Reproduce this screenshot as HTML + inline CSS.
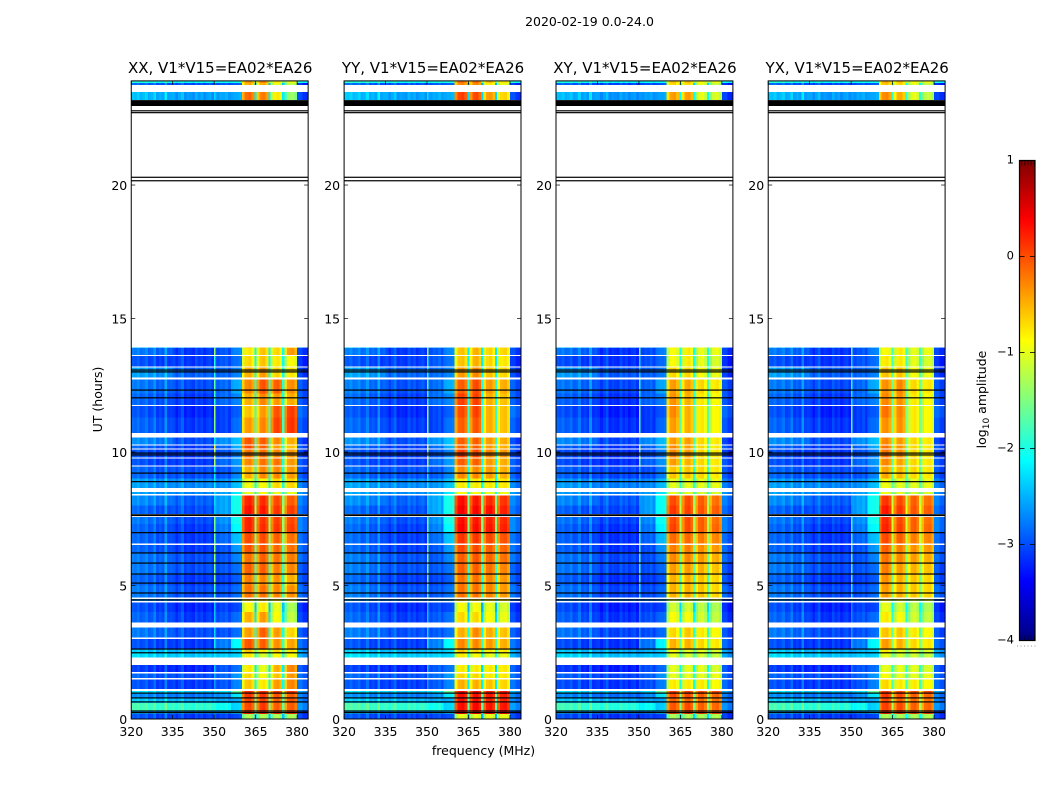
<!DOCTYPE html>
<html>
<head>
<meta charset="utf-8">
<title>2020-02-19 amplitude waterfall</title>
<style>
html,body{margin:0;padding:0;background:#fff;}
svg{display:block;}
text{font-family:"DejaVu Sans","Liberation Sans",sans-serif;fill:#000;}
</style>
</head>
<body>
<svg id="fig" xmlns="http://www.w3.org/2000/svg" width="1050" height="800" viewBox="0 0 1050 800"></svg>
<script>
const _ = null;
const panelTitles = ["XX, V1*V15=EA02*EA26","YY, V1*V15=EA02*EA26","XY, V1*V15=EA02*EA26","YX, V1*V15=EA02*EA26"];
const figureTitle = "2020-02-19 0.0-24.0";
const xTicks = [320,335,350,365,380];
const yTicks = [0,5,10,15,20];
const colorTicks = [1,0,-1,-2,-3,-4];
const colorbarMinorFractions = [0.05,0.25,0.45,0.65,0.85];
const panelLowOffset = [-.08,-.06,-.12,-.1];
const panelGapOffset = [0,-0.1,0.1,0.3];
const panelLineOffset = [0,0,-.3,-.3];
const rowStartHours = [0,.19,.30,.60,.79,.97,1.05,1.12,1.48,1.53,1.70,1.76,2.02,2.30,2.48,2.62,3.00,3.05,3.42,3.61,4.00,4.36,4.42,4.50,4.56,5.00,5.40,5.80,6.20,6.52,6.58,7.00,7.30,7.57,7.67,8.00,8.37,8.42,8.50,8.65,9.00,9.46,9.50,9.76,9.80,10.10,10.13,10.25,10.28,10.54,10.71,11.30,11.72,11.76,12.20,12.72,12.80,13.17,13.20,13.59,13.63,13.89,13.92,13.94,23.18,23.48,23.75,23.82];
const rowEndHour = 23.9;
const channelEdges = [320,321,322,323,324,325,326,327,328,329,330,331,332,333,334,335,336,337,338,339,340,341,342,343,344,345,346,347,348,349,350,350.5,351,352,353,354,355,356,357,358,359,360,361,362.5,363.5,364.6,365.4,366.4,367.5,368.6,369.6,370.4,371.4,372.5,373.6,374.6,375.4,376.4,377.7,379,380,382,384];
const lowChannelOffset = [.15,.1,.2,.05,.1,.2,0,.05,.25,-.05,.05,-.05,.35,-.05,0,.05,-.1,.05,.2,-.1,0,-.05,-.1,.1,-.05,.05,-.1,0,.05,-.1,0,0,-.05,.05,0,.1,-.05,0,.05,.05,.1];
const blockChannelOffset = [-.35,0,.05,-.15];
const highChannelOffset = [.08,-.08];
/* per row: 320-335, 335-350, 351-356, 356-360, 350 line, 380-384, gaps between blocks */
const lowLevels = [
[-3,-3,-3,-3,-2.8,-3,-2.4],[-2.6,-2.6,-2.6,-2.4,-2.6,-3,-1.8],[-1.8,-1.8,-2,-2.3,-1.9,-2.6,-1.6],[-2.4,-2.4,-2.5,-2.5,-2.4,-2.7,-1.7],[-2.7,-2.7,-2.6,-2.2,-2.6,-2.7,-1.6],[-2.3,-2.3,-2.2,-1.6,-2.2,-2.5,-1.2],_,
[-3,-3,-2.9,-2.7,-2.6,-2.8,-2.1],_,[-2.9,-2.9,-2.8,-2.6,-2.5,-2.8,-2],_,[-3.1,-3.1,-2.9,-2.8,-2.4,-2.9,-2.2],_,
[-2.3,-2.3,-2.3,-2.3,-2.2,-2.5,-1.9],[-2.4,-2.4,-2.4,-2.3,-2.3,-2.5,-1.7],[-3,-3,-2.7,-2.1,-2.2,-2.8,-1.8],_,[-2.8,-2.9,-2.9,-2.8,-2.3,-2.9,-2],_,
[-2.9,-3,-2.9,-2.8,-2.4,-3,-2.2],[-3,-3.1,-3,-3,-2.4,-3.1,-2.4],_,[-2.7,-2.7,-2.7,-2.6,-2.3,-2.9,-2],_,
[-2.8,-2.9,-2.9,-2.8,-1.8,-2.8,-1.8],[-2.9,-3,-3,-2.9,-1.5,-2.9,-1.9],[-2.8,-2.9,-2.9,-2.8,-1.5,-2.9,-1.8],[-2.8,-2.9,-2.9,-2.7,-1.4,-2.8,-1.7],[-2.9,-3,-2.9,-2.6,-1.5,-2.8,-1.7],_,
[-2.9,-3,-2.8,-2.4,-1.6,-2.8,-1.5],[-2.9,-3,-2.7,-2.1,-1.6,-2.7,-1.4],[-2.8,-2.9,-2.6,-2,-1.5,-2.7,-1.4],_,
[-2.9,-2.9,-2.5,-2,-2.4,-2.8,-1.3],[-2.7,-2.8,-2.5,-2,-2.3,-2.7,-1.5],_,[-2.6,-2.6,-2.5,-2.2,-2.2,-2.6,-1.9],_,
[-2.6,-2.6,-2.6,-2.4,-2.2,-2.7,-2],[-2.9,-2.9,-2.9,-2.7,-2.2,-2.9,-2],_,[-3,-3,-2.8,-2.6,-1.3,-2.9,-2],_,[-3,-3,-2.9,-2.7,-1.3,-3,-2],_,
[-2.9,-3,-2.8,-2.5,-1,-2.9,-1.9],_,[-2.7,-2.9,-2.6,-2.4,-2.2,-3,-1.9],_,
[-2.9,-3,-3,-2.8,-1.5,-2.9,-1.8],[-3,-3.1,-3,-2.9,-1.4,-2.8,-1.8],_,[-2.9,-3,-2.8,-2.7,-1.9,-2.9,-2],[-2.8,-2.9,-2.8,-2.5,-1.7,-2.9,-1.9],_,
[-2.6,-2.8,-2.8,-2.7,-2,-3,-2],_,[-3,-3,-2.9,-2.8,-2,-3.1,-2.1],_,[-2.8,-3,-2.9,-2.7,-1.4,-3,-2.1],_,[-2.5,-2.6,-2.6,-2.6,-2,-2.8,-2],_,
[-2.45,-2.5,-2.5,-2.5,-2.3,-3,-2.2],_,[-2.9,-2.9,-2.9,-2.9,-2.8,-3.1,-2.4],[-2,-2,-2,-2,-2,-2,-1.5]
];
/* per row: the four bright blocks 360-365, 365-370, 370-375, 375-380 */
const blocksXX = [
[-1.3,-1.3,-1.3,-1.3],[.2,.2,.1,.1],[0,.1,-.1,-.1],[.05,.05,-.1,-.05],[.1,.1,-.05,-.1],[.15,.15,.1,.1],_,
[-.6,-.8,-.4,-.3],_,[-.7,-.9,-.6,-.4],_,[-.8,-1,-.5,-.3],_,
[-.8,-1.1,-.9,-.9],[-.6,-.8,-.7,-.8],[-.05,-.1,-.35,-.45],_,[-.4,-.1,-.4,-.7],_,
[-.5,-.4,-.9,-1.2],[-.9,-.8,-1,-1.3],_,[-.7,-.7,-.8,-.9],_,
[-.2,-.2,-.3,-.35],[-.25,-.3,-.35,-.5],[-.1,-.1,-.25,-.3],[-.2,-.1,-.2,-.25],[-.05,-.05,-.15,-.2],_,
[0,0,-.1,-.2],[.2,.15,.1,.05],[.2,.1,.05,0],_,
[.3,.25,.1,.05],[.2,.15,0,-.1],_,[-1,-.9,-1,-1],_,
[-.95,-.9,-.7,-.7],[-.5,-.3,-.3,-.4],_,[-.3,-.2,-.2,-.4],_,[-.2,-.2,-.3,-.4],_,
[0,-.1,-.4,-.6],_,[-.05,-.1,-.3,-.5],_,
[-.4,-.3,.05,.1],[-.6,-.4,-.05,.05],_,[-.5,-.3,-.4,-.5],[-.3,-.05,-.1,-.35],_,
[-.5,-.4,-.7,-.8],_,[-.7,-.6,-.8,-.9],_,[-.8,-.6,-.7,-.4],_,[-.6,-.6,-.7,-.7],_,
[-.15,-.25,-.8,-1.4],_,[-.5,-.5,-1,-1.2],[-.4,-.3,-.8,-1]
];
const blocksYY = [
[-1,-1,-1,-1],[.35,.35,.3,.3],[.3,.35,.25,.25],[.3,.3,.2,.2],[.3,.3,.25,.2],[.3,.3,.25,.25],_,
[-.5,-.5,-.6,-.7],_,[-.7,-.7,-.8,-.8],_,[-.8,-.8,-.8,-.8],_,
[-.8,-.9,-1,-1],[-.6,-.7,-.8,-.8],[-.3,-.3,-.4,-.5],_,[-.5,-.3,-.5,-.6],_,
[-.7,-.7,-.9,-1],[-.9,-.9,-1,-1.1],_,[-.6,-.7,-.8,-.8],_,
[-.2,-.2,-.3,-.4],[-.2,-.2,-.3,-.4],[-.1,-.1,-.2,-.3],[-.1,-.05,-.15,-.2],[0,0,-.1,-.15],_,
[.1,.1,0,-.05],[.35,.3,.25,.2],[.3,.25,.2,.15],_,
[.4,.35,.3,.2],[.3,.25,.15,.1],_,[-.9,-.9,-1,-1],_,
[-.8,-.8,-.8,-.8],[-.3,-.3,-.4,-.5],_,[-.1,-.1,-.4,-.5],_,[.05,0,-.3,-.4],_,
[-.1,-.1,-.4,-.5],_,[-.1,-.1,-.4,-.5],_,
[-.1,-.05,-.5,-.6],[0,.05,-.5,-.6],_,[.05,.05,-.5,-.6],[-.1,0,-.4,-.5],_,
[-.4,-.3,-.6,-.7],_,[-.6,-.5,-.7,-.8],_,[-.6,-.5,-.7,-.7],_,[-.6,-.6,-.7,-.7],_,
[.05,0,-.4,-.7],_,[-.3,-.3,-.8,-1],[-.2,-.2,-.6,-.8]
];
const blocksXY = [
[-1.3,-1.3,-1.3,-1.3],[.1,.1,.05,0],[-.05,0,-.1,-.15],[-.1,-.1,-.15,-.2],[0,0,-.1,-.15],[.05,.05,0,0],_,
[-.8,-.8,-.8,-.9],_,[-1,-1,-1,-1],_,[-1,-1,-1,-1.1],_,
[-1,-1.1,-1.1,-1.2],[-.9,-1,-1,-1.1],[-.5,-.5,-.7,-.8],_,[-.7,-.6,-.8,-.9],_,
[-.9,-.9,-1.1,-1.2],[-1.1,-1.1,-1.2,-1.3],_,[-1,-1,-1.1,-1.1],_,
[-.5,-.5,-.6,-.7],[-.5,-.5,-.6,-.7],[-.4,-.4,-.5,-.6],[-.3,-.3,-.4,-.5],[-.25,-.25,-.35,-.4],_,
[-.15,-.15,-.25,-.3],[.05,0,-.1,-.15],[0,0,-.1,-.2],_,
[.1,.05,-.05,-.1],[0,0,-.1,-.2],_,[-1,-1,-1.1,-1.1],_,
[-1,-1,-1,-1],[-.6,-.6,-.7,-.8],_,[-.4,-.5,-.7,-.8],_,[-.3,-.4,-.7,-.8],_,
[-.3,-.4,-.7,-.8],_,[-.4,-.4,-.7,-.8],_,
[-.4,-.5,-.8,-.9],[-.3,-.5,-.8,-.9],_,[-.35,-.5,-.8,-.9],[-.4,-.45,-.7,-.8],_,
[-.7,-.7,-.9,-1],_,[-.9,-.8,-1,-1.1],_,[-.9,-.8,-1,-1],_,[-.8,-.8,-.9,-.9],_,
[-.4,-.4,-1,-1.1],_,[-.7,-.7,-1,-1.2],[-.6,-.6,-.9,-1]
];
const blocksYX = [
[-1.3,-1.3,-1.3,-1.3],[.2,.1,.05,0],[.05,0,-.1,-.15],[0,-.1,-.15,-.2],[.1,0,-.1,-.15],[.1,.05,0,0],_,
[-.7,-.8,-.8,-.9],_,[-.9,-1,-1,-1],_,[-1,-1,-1,-1.1],_,
[-1,-1.1,-1.1,-1.2],[-.8,-1,-1,-1.1],[-.4,-.5,-.7,-.8],_,[-.6,-.6,-.8,-.9],_,
[-.8,-.9,-1.1,-1.2],[-1,-1.1,-1.2,-1.3],_,[-.9,-1,-1.1,-1.1],_,
[-.4,-.5,-.6,-.7],[-.35,-.5,-.6,-.7],[-.25,-.4,-.5,-.6],[-.2,-.3,-.4,-.5],[-.1,-.25,-.35,-.4],_,
[0,-.1,-.25,-.3],[.2,.05,-.1,-.15],[.15,0,-.1,-.2],_,
[.25,.1,-.05,-.1],[.1,0,-.1,-.2],_,[-.95,-1,-1.1,-1.1],_,
[-.95,-1,-1,-1],[-.45,-.55,-.7,-.8],_,[-.3,-.45,-.7,-.8],_,[-.2,-.35,-.7,-.8],_,
[-.2,-.35,-.7,-.8],_,[-.3,-.4,-.7,-.8],_,
[-.35,-.35,-.8,-.9],[-.2,-.3,-.8,-.9],_,[-.3,-.35,-.8,-.9],[-.35,-.3,-.7,-.8],_,
[-.6,-.6,-.9,-1],_,[-.8,-.8,-1,-1.1],_,[-.9,-.8,-1,-1],_,[-.8,-.8,-.9,-.9],_,
[-.3,-.5,-1,-1.2],_,[-.6,-.7,-1,-1.2],[-.5,-.6,-.9,-1]
];
const panelBlocks = [blocksXX,blocksYY,blocksXY,blocksYX];
const blackLineHours = [.24,.30,.64,.79,.97,2.48,2.62,4.46,4.72,5.09,5.43,5.84,6.22,6.98,8.89,9.21,9.89,9.96,12.03,12.32,13.00,13.07,20.16,20.29,22.71,22.78];
const thickBlackBands = [[7.60,7.67],[22.96,23.18]];

/* layout */
const svg = document.getElementById('fig');
const NS = 'http://www.w3.org/2000/svg';
const panelLeft = [131.25,344.1,556,768.2];
const panelWidth = 176.9;
const plotTop = 80.9, plotBottom = 719;
const xDomain = [320,384];
const yDomain = [0,23.9];
const valueDomain = [-4,1];
const cbar = {x0:1019.5,x1:1035,y0:160.5,y1:640.5};

function xScale(p,f){return panelLeft[p]+(f-xDomain[0])/(xDomain[1]-xDomain[0])*panelWidth;}
function yScale(h){return plotBottom-(h-yDomain[0])/(yDomain[1]-yDomain[0])*(plotBottom-plotTop);}
function cbarY(v){return cbar.y1-(v-valueDomain[0])/(valueDomain[1]-valueDomain[0])*(cbar.y1-cbar.y0);}
function jet(v){
  const t=Math.max(0,Math.min(1,(v-valueDomain[0])/(valueDomain[1]-valueDomain[0])));
  const c=x=>Math.round(255*Math.max(0,Math.min(1,x)));
  return 'rgb('+c(Math.min(4*t-1.5,-4*t+4.5))+','+c(Math.min(4*t-.5,-4*t+3.5))+','+c(Math.min(4*t+.5,-4*t+2.5))+')';
}
function addEl(tag,attrs,parent){
  const e=document.createElementNS(NS,tag);
  for(const k in attrs){e.setAttribute(k,attrs[k]);}
  (parent||svg).appendChild(e);
  return e;
}
function addText(str,x,y,size,anchor,name,parent){
  const t=addEl('text',{x:x,y:y,'font-size':size,'text-anchor':anchor},parent);
  
  
  t.textContent=str;
  return t;
}
function addLine(x1,y1,x2,y2,width,name,parent){
  const l=addEl('line',{x1:x1,y1:y1,x2:x2,y2:y2,stroke:'#000','stroke-width':width},parent);
  
  
  return l;
}
function cellValue(p,r,c){
  const f=channelEdges[c];
  const low=lowLevels[r];
  const lo=panelLowOffset[p];
  if(f<335) return low[0]+lowChannelOffset[c]+lo;
  if(f<350) return low[1]+lowChannelOffset[c]+lo;
  if(f<350.5) return low[4]+panelLineOffset[p];
  if(f<356) return low[2]+lowChannelOffset[c]+lo;
  if(f<360) return low[3]+lowChannelOffset[c]+lo;
  if(f>=380) return low[5]+highChannelOffset[c-channelEdges.indexOf(380)]+lo;
  const start=[360,365.4,370.4,375.4];
  for(let b=0;b<4;b++){
    const i=channelEdges.indexOf(start[b]);
    if(c>=i&&c<i+4) return panelBlocks[p][r][b]+blockChannelOffset[c-i];
  }
  return low[6]+panelGapOffset[p];
}

/* figure-level text */
addText(figureTitle,589.5,26,12.5,'middle','figure-title');
addText('frequency (MHz)',483.5,755,12.5,'middle','x-axis-title');
const yTitle=addText('UT (hours)',0,0,12.5,'middle','y-axis-title');
yTitle.setAttribute('transform','translate(102,399.5) rotate(-90)');

/* panels */
panelTitles.forEach(function(title,p){
  const g=addEl('g',{});
  
  
  const cells=addEl('g',{'shape-rendering':'crispEdges'},g);
  
  
  rowStartHours.forEach(function(h0,r){
    if(lowLevels[r]===null) return;
    const h1=r+1<rowStartHours.length?rowStartHours[r+1]:rowEndHour;
    for(let c=0;c<channelEdges.length-1;c++){
      const x=xScale(p,channelEdges[c]), x2=xScale(p,channelEdges[c+1]);
      const y=yScale(h1), y2=yScale(h0);
      const cell=addEl('rect',{x:x,y:y,width:x2-x,height:y2-y,fill:jet(cellValue(p,r,c))},cells);
      
      
    }
  });
  blackLineHours.forEach(function(h){
    const l=addEl('rect',{x:xScale(p,320),y:yScale(h)-.6,width:panelWidth,height:1.2,fill:'#000'},g);
    
    
  });
  thickBlackBands.forEach(function(b){
    const l=addEl('rect',{x:xScale(p,320),y:yScale(b[1]),width:panelWidth,height:yScale(b[0])-yScale(b[1]),fill:'#000'},g);
    
    
  });
  const frame=addEl('rect',{x:panelLeft[p],y:plotTop,width:panelWidth,height:plotBottom-plotTop,fill:'none',stroke:'#000','stroke-width':1},g);
  
  
  addText(title,panelLeft[p]+panelWidth/2+.5,73,15,'middle','panel-title',g);
  xTicks.forEach(function(f){
    const x=xScale(p,f);
    addLine(x,plotBottom,x,plotBottom-4,.7,'x-tick',g);
    addLine(x,plotTop,x,plotTop+4,.7,'x-tick-top',g);
    addText(String(f),x,736,12.5,'middle','x-tick-label',g);
  });
  yTicks.forEach(function(h){
    const y=yScale(h);
    addLine(panelLeft[p],y,panelLeft[p]+4,y,.7,'y-tick',g);
    addLine(panelLeft[p]+panelWidth,y,panelLeft[p]+panelWidth-4,y,.7,'y-tick-right',g);
    addText(String(h),panelLeft[p]-4,y+5,12.5,'end','y-tick-label',g);
  });
});

/* colorbar */
const cb=addEl('g',{});


const cbCells=addEl('g',{'shape-rendering':'crispEdges'},cb);
for(let py=0;py<240;py++){
  const v=valueDomain[1]-(py+.5)/240*(valueDomain[1]-valueDomain[0]);
  const s=addEl('rect',{x:cbar.x0,y:cbar.y0+py*2,width:cbar.x1-cbar.x0,height:2,fill:jet(v)},cbCells);
  
  
}
const cbFrame=addEl('rect',{x:cbar.x0,y:cbar.y0,width:cbar.x1-cbar.x0,height:cbar.y1-cbar.y0,fill:'none',stroke:'#000','stroke-width':1.2},cb);


colorTicks.forEach(function(v){
  const y=cbarY(v);
  if(v>valueDomain[0]&&v<valueDomain[1]){
    addLine(cbar.x0,y,cbar.x0+5,y,.8,'colorbar-tick',cb);
    addLine(cbar.x1,y,cbar.x1-5,y,.8,'colorbar-tick-right',cb);
  }
  const lab=v<0?'\u2212'+Math.abs(v):String(v);
  addText(lab,1014,y+3,11.5,'end','colorbar-tick-label',cb);
});
colorbarMinorFractions.forEach(function(f){
  const x=cbar.x0+(f+.1)*(cbar.x1-cbar.x0);
  addLine(x,cbar.y0,x,cbar.y0+5,.6,'colorbar-minor-tick-top',cb);
  addLine(x,cbar.y1,x,cbar.y1-5,.6,'colorbar-minor-tick-bottom',cb);
});
const dots=addEl('line',{x1:1017,y1:646,x2:1036,y2:646,stroke:'#999','stroke-width':1,'stroke-dasharray':'1 2.5'},cb);


const cbTitle=addText('',0,0,12.5,'middle','colorbar-title',cb);
cbTitle.setAttribute('transform','translate(986,399.5) rotate(-90)');
const s1=addEl('tspan',{},cbTitle);
s1.textContent='log';
const s2=addEl('tspan',{dy:3,'font-size':9},cbTitle);
s2.textContent='10';
const s3=addEl('tspan',{dy:-3},cbTitle);
s3.textContent=' amplitude';
</script>
</body>
</html>
